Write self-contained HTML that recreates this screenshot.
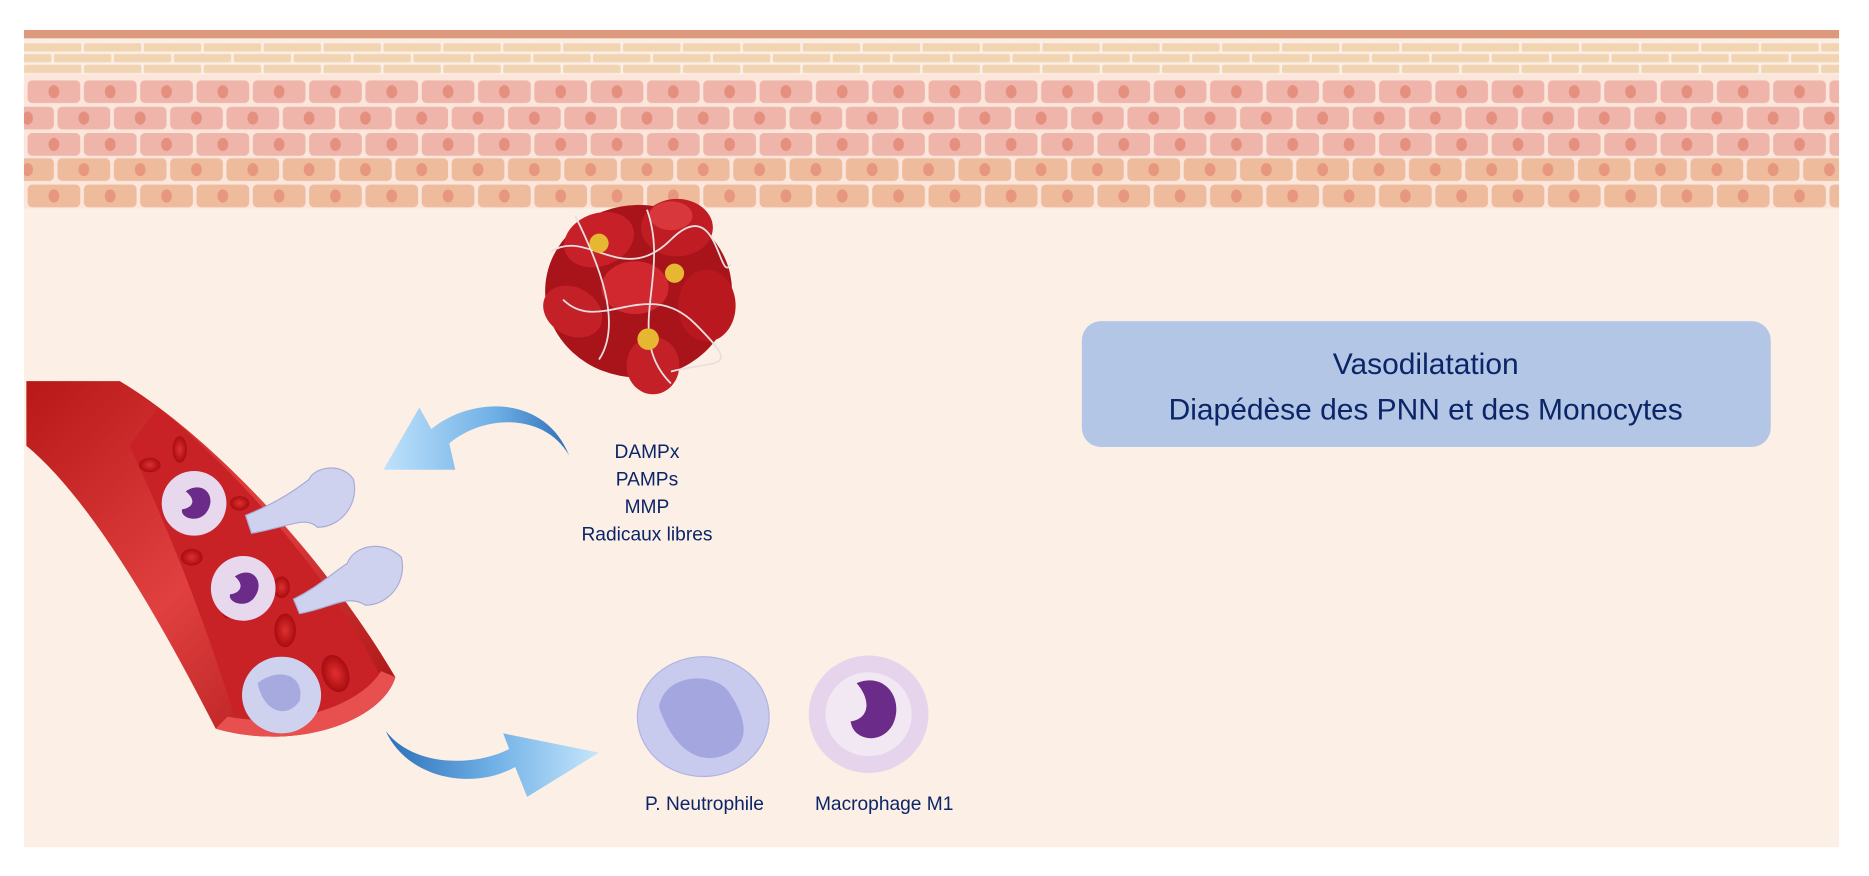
<!DOCTYPE html>
<html><head><meta charset="utf-8"><style>
html,body{margin:0;padding:0;background:#fff;}
svg{display:block;}
text{font-family:"Liberation Sans",sans-serif;fill:#0b2566;}
</style></head><body>
<svg width="1869" height="876" viewBox="0 0 1560 731" preserveAspectRatio="none">
<defs>
<pattern id="brick" x="20" y="35" width="50" height="18" patternUnits="userSpaceOnUse">
<rect x="0" y="1" width="48" height="7" rx="1.5" fill="#f1d5b3"/>
<rect x="25" y="10" width="48" height="7" rx="1.5" fill="#f1d5b3"/>
<rect x="-25" y="10" width="48" height="7" rx="1.5" fill="#f1d5b3"/>
</pattern>
<pattern id="cellA" x="22" y="67" width="47" height="22" patternUnits="userSpaceOnUse">
<rect x="1" y="0" width="44" height="19" rx="4" fill="#efb5ab"/>
<ellipse cx="23" cy="9.5" rx="4.5" ry="5.5" fill="#e5907f"/>
</pattern>
<pattern id="cellB" x="0" y="89" width="47" height="22" patternUnits="userSpaceOnUse">
<rect x="1" y="0" width="44" height="19" rx="4" fill="#efb5ab"/>
<ellipse cx="23" cy="9.5" rx="4.5" ry="5.5" fill="#e5907f"/>
</pattern>
<pattern id="cellC" x="0" y="132" width="47" height="22" patternUnits="userSpaceOnUse">
<rect x="1" y="0" width="44" height="19" rx="4" fill="#efbb9d"/>
<ellipse cx="23" cy="9.5" rx="4.5" ry="5.5" fill="#e8977f"/>
</pattern>
<pattern id="cellD" x="22" y="154" width="47" height="22" patternUnits="userSpaceOnUse">
<rect x="1" y="0" width="44" height="19" rx="4" fill="#efbb9d"/>
<ellipse cx="23" cy="9.5" rx="4.5" ry="5.5" fill="#e8977f"/>
</pattern>
<linearGradient id="arr" x1="0" y1="0" x2="1" y2="0">
<stop offset="0" stop-color="#bfe2fb"/><stop offset="0.6" stop-color="#6fb0e6"/><stop offset="1" stop-color="#2d6fb8"/>
</linearGradient>
<linearGradient id="arr2" x1="0" y1="0" x2="1" y2="0">
<stop offset="0" stop-color="#2d6fb8"/><stop offset="0.5" stop-color="#6fb0e6"/><stop offset="1" stop-color="#c6e6fc"/>
</linearGradient>
<linearGradient id="ves" x1="0" y1="0" x2="1" y2="1">
<stop offset="0" stop-color="#b81818"/><stop offset="0.5" stop-color="#e04040"/><stop offset="1" stop-color="#a81212"/>
</linearGradient>
<radialGradient id="rbc"><stop offset="0" stop-color="#e03030"/><stop offset="1" stop-color="#a80c10"/></radialGradient>
</defs>
<rect x="20" y="25" width="1515" height="682" fill="#fcefe6"/>
<rect x="20" y="25" width="1515" height="7" fill="#dc9a7c"/>
<rect x="20" y="34" width="1515" height="28" fill="url(#brick)"/>
<rect x="20" y="62" width="1515" height="112" fill="#fbe6dc"/>
<rect x="20" y="67" width="1515" height="20" fill="url(#cellA)"/>
<rect x="20" y="89" width="1515" height="20" fill="url(#cellB)"/>
<rect x="20" y="111" width="1515" height="20" fill="url(#cellA)"/>
<rect x="20" y="132" width="1515" height="20" fill="url(#cellC)"/>
<rect x="20" y="154" width="1515" height="20" fill="url(#cellD)"/>

<!-- clot -->
<g>
<ellipse cx="533" cy="243" rx="78" ry="72" fill="#a8141a"/>
<ellipse cx="500" cy="200" rx="30" ry="22" fill="#c82028" transform="rotate(-20 500 200)"/>
<ellipse cx="565" cy="190" rx="30" ry="24" fill="#c01c24"/>
<ellipse cx="478" cy="260" rx="26" ry="20" fill="#c42028" transform="rotate(30 478 260)"/>
<ellipse cx="590" cy="255" rx="24" ry="30" fill="#b8181e"/>
<ellipse cx="545" cy="305" rx="22" ry="24" fill="#c42028"/>
<ellipse cx="530" cy="240" rx="28" ry="22" fill="#d0282e"/>
<ellipse cx="560" cy="180" rx="18" ry="12" fill="#d8383c"/>
<path d="M460 210 C490 190 520 240 560 200 S600 240 610 220 M470 250 C500 280 540 230 580 270 S600 300 560 310 M480 180 C500 220 520 270 500 300 M540 175 C560 230 520 280 560 320" stroke="#e8e0e0" stroke-width="1.5" fill="none"/>
<g fill="#e6b832"><circle cx="500" cy="203" r="8"/><circle cx="563" cy="228" r="8"/><circle cx="541" cy="283" r="9"/></g>
</g>

<!-- vessel -->
<path d="M22 318 L100 318 C170 360 265 455 330 565 C320 600 250 628 180 608 C140 530 80 420 22 372 Z" fill="url(#ves)"/>
<path d="M132 340 C200 395 275 480 318 565 C305 592 245 608 195 596 C172 520 140 440 108 372 Z" fill="#c82226"/>
<path d="M180 608 C250 628 320 600 330 565 L318 560 C300 590 240 608 190 598 Z" fill="#e85050"/>
<g fill="url(#rbc)">
<ellipse cx="125" cy="388" rx="9" ry="6"/><ellipse cx="150" cy="375" rx="6" ry="11"/><ellipse cx="160" cy="465" rx="9" ry="7"/>
<ellipse cx="190" cy="505" rx="6" ry="11"/><ellipse cx="238" cy="526" rx="9" ry="14"/><ellipse cx="280" cy="562" rx="11" ry="16" transform="rotate(-20 280 562)"/>
<ellipse cx="200" cy="420" rx="8" ry="6"/><ellipse cx="235" cy="490" rx="7" ry="9"/>
</g>
<!-- WBCs -->
<g><circle cx="162" cy="420" r="27" fill="#e8d8ee"/><path d="M155 410 C170 400 182 415 172 428 C165 437 150 432 152 425 C160 424 165 418 155 410Z" fill="#6a2c88"/></g>
<g><circle cx="203" cy="491" r="27" fill="#e8d8ee"/><path d="M196 481 C211 471 222 486 212 499 C205 508 190 503 192 496 C200 495 205 489 196 481Z" fill="#6a2c88"/></g>
<path d="M205 430 C230 420 245 410 258 400 C262 390 285 385 295 400 C300 420 285 440 265 440 C255 430 240 440 210 445Z" fill="#cfd2ef" stroke="#a8acd8"/>
<path d="M245 500 C265 490 275 480 290 470 C295 455 320 450 335 465 C340 485 325 505 305 505 C290 495 275 508 250 512Z" fill="#cfd2ef" stroke="#a8acd8"/>
<ellipse cx="235" cy="580" rx="33" ry="32" fill="#cfd2ef"/>
<path d="M215 570 C235 555 255 565 250 585 C240 600 220 595 215 570Z" fill="#a7aade"/>

<!-- arrows -->
<path d="M475 380 C455 345 405 345 375 370 L380 392 L320 392 L350 340 L360 358 C395 330 455 330 475 380 Z" fill="url(#arr)"/>
<path d="M322 610 C340 650 395 660 430 640 L440 665 L500 628 L420 612 L425 625 C395 640 345 640 322 610 Z" fill="url(#arr2)"/>

<!-- free cells -->
<ellipse cx="587" cy="598" rx="55" ry="50" fill="#c8cbee" stroke="#b0b4e0"/>
<path d="M550 590 C555 560 600 560 610 580 C620 595 630 620 605 630 C580 640 560 620 550 590Z" fill="#9b9edb" opacity="0.8"/>
<ellipse cx="725" cy="596" rx="50" ry="49" fill="#e6d4ec"/>
<ellipse cx="725" cy="596" rx="36" ry="35" fill="#f2e8f4"/>
<path d="M715 570 C740 560 755 585 745 605 C735 622 712 618 710 602 C725 600 728 585 715 570Z" fill="#6a2c88"/>

<!-- box -->
<rect x="903" y="268" width="575" height="105" rx="16" fill="#b3c6e6"/>
<text x="1190" y="312" font-size="25" text-anchor="middle">Vasodilatation</text>
<text x="1190" y="350" font-size="25" text-anchor="middle">Diapédèse des PNN et des Monocytes</text>

<g font-size="16" text-anchor="middle">
<text x="540" y="382">DAMPx</text>
<text x="540" y="405">PAMPs</text>
<text x="540" y="428">MMP</text>
<text x="540" y="451">Radicaux libres</text>
<text x="588" y="676">P. Neutrophile</text>
<text x="738" y="676">Macrophage M1</text>
</g>
</svg>
</body></html>
